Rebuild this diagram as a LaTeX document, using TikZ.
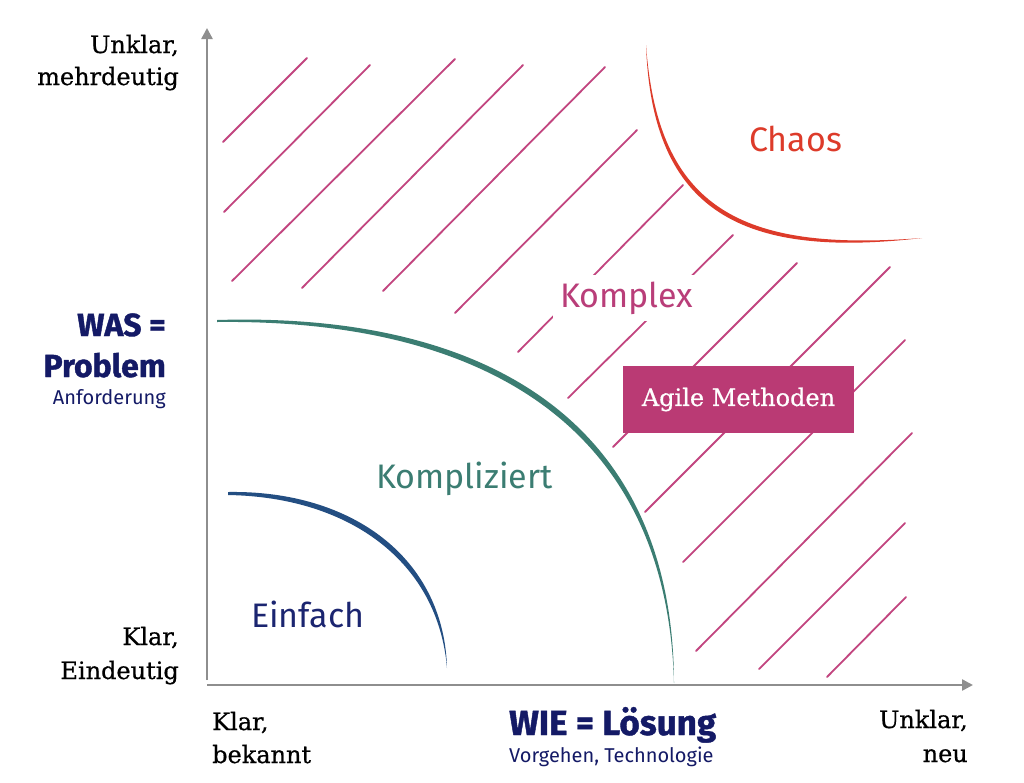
\documentclass[tikz,border=0pt]{standalone}
\usepackage{fontspec}
\setmainfont{DejaVu Serif}[FakeBold=0.6]
\newfontfamily\fira{Fira Sans}[BoldFeatures={FakeBold=1.2}]
\usetikzlibrary{arrows.meta}
\definecolor{axisgray}{HTML}{8E8E8E}
\definecolor{hatchc}{HTML}{C2457F}
\definecolor{chaosred}{HTML}{DD3B2A}
\definecolor{teal}{HTML}{3B7D72}
\definecolor{bluecurve}{HTML}{234E82}
\definecolor{navy}{HTML}{141A66}
\definecolor{einfachc}{HTML}{1B2570}
\definecolor{komplexc}{HTML}{B93E79}
\definecolor{agilec}{HTML}{BA3A74}
\tikzset{
  axisline/.style={draw=axisgray, line width=2.4pt, -{Triangle[width=11pt,length=11pt]}},
  hatch/.style={draw=hatchc, line width=1.8pt, line cap=round},
  sidetext/.style={inner sep=0pt, font=\fontsize{24}{28}\selectfont, text=black},
  bigbold/.style={inner sep=0pt, text=navy, font=\fira\bfseries\fontsize{32}{36}\selectfont},
  subtext/.style={inner sep=0pt, text=navy, font=\fira\fontsize{20}{24}\selectfont},
  region/.style={inner sep=0pt, font=\fira\fontsize{34}{38}\selectfont},
  agilebox/.style={fill=agilec, text=white, minimum width=231pt, minimum height=67pt, inner sep=0pt, font=\fontsize{24}{27}\selectfont}
}
\begin{document}
\begin{tikzpicture}[x=1pt,y=-1pt]
\useasboundingbox[fill=white] (0,0) rectangle (1024,782);

% axes
\coordinate (vstart) at (207,680);
\coordinate (vend) at (207,28);
\coordinate (hstart) at (207,685);
\coordinate (hend) at (973,685);
\draw[axisline] (vstart) -- (vend);
\draw[axisline] (hstart) -- (hend);

% hatching
\foreach \xa/\ya/\xb/\yb in {
  223/142/307/58, 224/212/370/65, 232/281/455/59, 302/288/523/65,
  383/291/605/67, 455/313/637/130, 518/352/683/185, 568/398/733/235,
  613/447/797/263, 645/512/890/267, 683/562/905/340, 696/651/912/433,
  759/669/905/523, 827/677/906/597}
  \draw[hatch] (\xa,\ya) -- (\xb,\yb);

% curves (tapered strokes)
\fill[chaosred] (646,45) .. controls (652,212) and (742,259) .. (922,238)
  .. controls (741,252) and (658,209) .. (646,45) -- cycle;
\fill[teal] (217,320) .. controls (482,312) and (673,418) .. (674,683)
  .. controls (667,422) and (478,319) .. (217,322) -- cycle;
\fill[bluecurve] (228,492) .. controls (352,490) and (444,558) .. (447,668)
  .. controls (438,562) and (350,497) .. (228,495) -- cycle;

% left labels
\node[sidetext, anchor=base east] (unklarL) at (179,53) {Unklar,};
\node[sidetext, anchor=base east] (mehrdeutig) at (179,85) {mehrdeutig};
\node[bigbold, anchor=base east] (was) at (166,336) {WAS =};
\node[bigbold, anchor=base east] (problem) at (166,377) {Problem};
\node[subtext, anchor=base east] (anford) at (166,404) {Anforderung};
\node[sidetext, anchor=base east] (klarL) at (179,645) {Klar,};
\node[sidetext, anchor=base east] (eindeutig) at (179,679) {Eindeutig};

% bottom labels
\node[sidetext, anchor=base west] (klarB) at (212,730) {Klar,};
\node[sidetext, anchor=base west] (bekannt) at (212,763) {bekannt};
\node[bigbold, anchor=base west, font=\fira\bfseries\fontsize{35}{38}\selectfont] (wie) at (509,735) {WIE = Lösung};
\node[subtext, anchor=base west] (vorgehen) at (509,762) {Vorgehen, Technologie};
\node[sidetext, anchor=base east] (unklarB) at (968,728) {Unklar,};
\node[sidetext, anchor=base east] (neu) at (968,762) {neu};

% region labels
\node[region, text=chaosred, anchor=base west] (chaos) at (749,151) {Chaos};
\node[region, text=komplexc, fill=white, inner sep=7pt, anchor=base west] (komplex) at (553,307) {Komplex};
\node[region, text=teal, anchor=base west] (kompliziert) at (376,488) {Kompliziert};
\node[region, text=einfachc, anchor=base west] (einfach) at (251,627) {Einfach};

% agile box
\node[agilebox] (agile) at (738.5,399.5) {Agile Methoden};
\end{tikzpicture}
\end{document}
